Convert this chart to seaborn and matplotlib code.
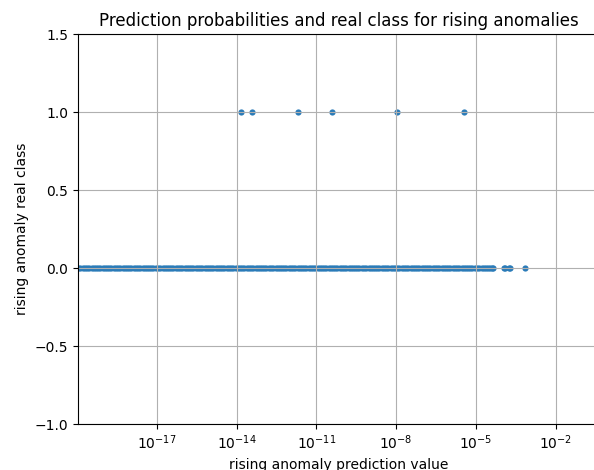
import numpy as np
import pandas as pd
import matplotlib
matplotlib.use("Agg")
import matplotlib.pyplot as plt
import seaborn as sns
from matplotlib.ticker import NullLocator, LogFormatterSciNotation

# log10 of prediction values for real class 0 (dense band) and isolated ones
band_exp = [
    -20.30, -20.21, -20.13, -20.04,
    -19.96, -19.88, -19.79, -19.71, -19.63, -19.54, -19.46, -19.38, -19.29, -19.21, -19.13, -19.04,
    -18.96, -18.88, -18.79, -18.71, -18.63, -18.54, -18.46, -18.38, -18.29, -18.21, -18.13, -18.04,
    -17.96, -17.88, -17.79, -17.71, -17.63, -17.54, -17.46, -17.38, -17.29, -17.21, -17.13, -17.04,
    -16.96, -16.88, -16.79, -16.71, -16.63, -16.54, -16.46, -16.38, -16.29, -16.21, -16.13, -16.04,
    -15.96, -15.88, -15.79, -15.71, -15.63, -15.54, -15.46, -15.38, -15.29, -15.21, -15.13, -15.04,
    -14.96, -14.88, -14.79, -14.71, -14.63, -14.54, -14.46, -14.38, -14.29, -14.21, -14.13, -14.04,
    -13.96, -13.88, -13.79, -13.71, -13.63, -13.54, -13.46, -13.38, -13.29, -13.21, -13.13, -13.04,
    -12.96, -12.88, -12.79, -12.71, -12.63, -12.54, -12.46, -12.38, -12.29, -12.21, -12.13, -12.04,
    -11.96, -11.88, -11.79, -11.71, -11.63, -11.54, -11.46, -11.38, -11.29, -11.21, -11.13, -11.04,
    -10.96, -10.88, -10.79, -10.71, -10.63, -10.54, -10.46, -10.38, -10.29, -10.21, -10.13, -10.04,
    -9.96, -9.88, -9.79, -9.71, -9.63, -9.54, -9.46, -9.38, -9.29, -9.21, -9.13, -9.04,
    -8.96, -8.88, -8.79, -8.71, -8.63, -8.54, -8.46, -8.38, -8.29, -8.21, -8.13, -8.04,
    -7.96, -7.88, -7.79, -7.71, -7.63, -7.54, -7.46, -7.38, -7.29, -7.21, -7.13, -7.04,
    -6.96, -6.88, -6.79, -6.71, -6.63, -6.54, -6.46, -6.38, -6.29, -6.21, -6.13, -6.04,
    -5.96, -5.88, -5.79, -5.71, -5.63, -5.54, -5.46, -5.38, -5.29, -5.21, -5.13, -5.04,
    -4.96, -4.88, -4.79, -4.71, -4.63, -4.55, -4.47, -4.41, -4.35,
]
zero_extra_exp = [-3.93, -3.89, -3.74, -3.70, -3.16]
one_exp = [-13.84, -13.41, -11.70, -10.43, -7.97, -5.44]

xtick_exp = [-17, -14, -11, -8, -5, -2]
yticks = [-1.0, -0.5, 0.0, 0.5, 1.0, 1.5]

exps = band_exp + zero_extra_exp + one_exp
classes = [0] * (len(band_exp) + len(zero_extra_exp)) + [1] * len(one_exp)
df = pd.DataFrame({"pred": np.power(10.0, exps), "real": classes})

plt.rcParams["font.family"] = ["DejaVu Sans"]
fig = plt.figure(figsize=(5.94, 4.70), dpi=100)
ax = fig.add_axes([78 / 594, (470 - 424) / 470, (599 - 78) / 594, 390 / 470])

sns.scatterplot(data=df, x="pred", y="real", ax=ax, color="#2a7bb8",
                s=20, linewidth=0)

ax.set_xscale("log")
ax.set_xlim(10 ** -19.97, 10 ** -0.37)
ax.set_ylim(-1.0, 1.5)
ax.set_xticks([10.0 ** e for e in xtick_exp])
ax.xaxis.set_major_formatter(LogFormatterSciNotation())
ax.xaxis.set_minor_locator(NullLocator())
ax.set_yticks(yticks)
ax.grid(True, color="#b0b0b0", linewidth=0.8)
ax.set_axisbelow("line")
for sp in ax.spines.values():
    sp.set_color("black")
    sp.set_linewidth(0.8)
ax.tick_params(direction="out", length=3.5, width=0.8, labelsize=10)

ax.set_title("Prediction probabilities and real class for rising anomalies", fontsize=12)
ax.set_xlabel("rising anomaly prediction value", fontsize=10)
ax.set_ylabel("rising anomaly real class", fontsize=10)

fig.savefig("out.png", dpi=100)
